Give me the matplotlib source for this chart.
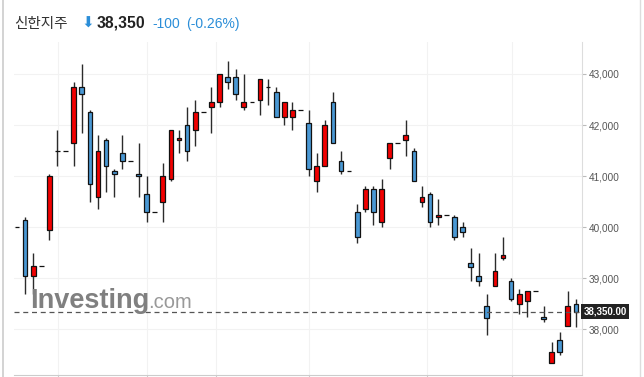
# region Load libraries
import matplotlib
matplotlib.use("Agg")
import matplotlib.pyplot as plt
from matplotlib.lines import Line2D
# endregion

# region Data
opens = [40000, 40150, 39050, 39250, 39950, 41500, 41500, 41650, 42750, 42250,
         40600, 41700, 41100, 41450, 41300, 41050, 40650, 40300, 40500, 40950,
         41700, 42000, 41900, 42250, 42350, 42450, 42950, 42950, 42350, 42450,
         42500, 42750, 42650, 42150, 42150, 42300, 42050, 40900, 41200, 42450,
         41300, 41100, 40300, 40350, 40750, 40100, 41350, 41650, 41700, 41500,
         40500, 40650, 40200, 40250, 40200, 40000, 39300, 39050, 38450, 38850,
         39400, 38950, 38500, 38550, 38750, 38250, 37350, 37800, 38060, 38500]
highs = [40000, 40200, 39500, 39250, 41050, 41900, 41500, 42850, 43200, 42300,
         41800, 41750, 41150, 41800, 41300, 41650, 41000, 40300, 41250, 41900,
         41900, 42350, 42500, 42250, 42750, 43000, 43250, 43100, 43000, 42450,
         42900, 42900, 42750, 42450, 42450, 42300, 42300, 41450, 42100, 42650,
         41500, 41100, 40450, 40800, 40800, 40950, 41650, 41650, 42100, 41550,
         40800, 40700, 40550, 40250, 40250, 40100, 39600, 39500, 38700, 39500,
         39800, 39000, 38800, 38750, 38750, 38450, 37750, 37950, 38750, 38600]
lows = [40000, 38700, 38700, 39250, 39750, 41200, 41500, 41200, 41850, 40500,
        40350, 40700, 40600, 41150, 41300, 40600, 40100, 40300, 40100, 40900,
        41450, 41300, 41600, 42250, 41850, 42350, 42700, 42500, 42300, 42450,
        42200, 42400, 42150, 42000, 41900, 42300, 41000, 40700, 41200, 41650,
        41050, 41100, 39700, 40300, 40050, 40000, 41150, 41650, 41400, 40900,
        40400, 40000, 40050, 40250, 39750, 39800, 38950, 38850, 37900, 38850,
        39350, 38550, 38300, 38250, 38750, 38150, 37350, 37500, 38060, 38050]
closes = [40000, 39050, 39250, 39250, 41000, 41500, 41500, 42750, 42600, 40850,
          41500, 41200, 41050, 41300, 41300, 41000, 40300, 40300, 41000, 41900,
          41750, 41500, 42250, 42250, 42450, 43000, 42850, 42600, 42450, 42450,
          42900, 42750, 42150, 42450, 42300, 42300, 41150, 41200, 42000, 41650,
          41100, 41100, 39800, 40750, 40300, 40750, 41650, 41650, 41800, 40900,
          40600, 40100, 40250, 40250, 39800, 39900, 39220, 38950, 38220, 39150,
          39450, 38600, 38700, 38750, 38750, 38200, 37550, 37550, 38450, 38350]

y_ticks = [38000, 39000, 40000, 41000, 42000, 43000]
month_ticks = [5.1, 16.1, 24.6, 36.1, 50.6, 61.1]
last_price = 38350
# endregion

# region Figure setup
W, H = 644, 377
fig = plt.figure(figsize=(W / 100, H / 100), dpi=100)
fig.patch.set_facecolor("white")
ax = fig.add_axes([14 / W, 1 - 375 / H, (582 - 14) / W, (375 - 42) / H])
ax.set_facecolor("white")
# endregion

# region Candles
x = list(range(len(opens)))
up_col, down_col = "#f20000", "#4a98d4"
colors = [up_col if c > o else (down_col if c < o else "#333333") for o, c in zip(opens, closes)]
ax.vlines(x, lows, highs, color="#2b2b2b", linewidth=1.0, zorder=2)
ax.bar(x, [c - o for o, c in zip(opens, closes)], bottom=opens, width=0.58,
       color=colors, edgecolor="#111111", linewidth=0.9, zorder=3)
# endregion

# region Axes styling
ax.set_xlim(-0.37, 69.75)
ax.set_ylim(37109, 43626)
ax.yaxis.tick_right()
ax.set_yticks(y_ticks)
ax.set_yticklabels([f"{v:,}" for v in y_ticks], family="Liberation Sans",
                   fontsize=7.2, color="#555555")
ax.tick_params(axis="y", length=3, color="#bbbbbb", pad=2)
ax.set_xticks(month_ticks)
ax.set_xticklabels([])
ax.tick_params(axis="x", length=3, color="#cccccc")
ax.grid(True, color="#f2f2f2", linewidth=0.8, zorder=0)
ax.set_axisbelow(True)
for s in ["left", "top"]:
    ax.spines[s].set_visible(False)
ax.spines["bottom"].set_color("#cccccc")
ax.spines["right"].set_color("#dddddd")

# last price line + label
ax.axhline(last_price, color="#555555", linewidth=0.9, linestyle=(0, (4, 3)), zorder=4)
ax.text(1.003, last_price, f"{last_price:,.2f}", transform=ax.get_yaxis_transform(),
        va="center", ha="left", fontsize=7, fontweight="bold", color="white",
        family="Liberation Sans", zorder=6, clip_on=False,
        bbox=dict(boxstyle="square,pad=0.25", facecolor="#222222", edgecolor="none"))

# watermark
ax.text(30 / W, 1 - 308 / H, "Investing", transform=fig.transFigure, fontsize=19.5,
        fontweight="bold", color="#808080", family="Liberation Sans", va="baseline", zorder=5)
ax.text(148 / W, 1 - 308 / H, ".com", transform=fig.transFigure, fontsize=14.5,
        color="#999999", family="Liberation Sans", va="baseline", zorder=5)
# endregion

# region Header
fig.text(14 / W, 1 - 28 / H, "신한지주", fontsize=10.5, color="#333333",
         family=["Noto Sans CJK KR", "DejaVu Sans"], va="baseline")
fig.text(81 / W, 1 - 28 / H, "⬇", fontsize=11, color="#2b8ed8",
         family="DejaVu Sans", va="baseline")
fig.text(97 / W, 1 - 28 / H, "38,350", fontsize=11.3, fontweight="bold", color="#222222",
         family="Liberation Sans", va="baseline")
fig.text(152 / W, 1 - 28 / H, "-100", fontsize=10, color="#2b8ed8",
         family="Liberation Sans", va="baseline")
fig.text(186 / W, 1 - 28 / H, "(-0.26%)", fontsize=10, color="#2b8ed8",
         family="Liberation Sans", va="baseline")

# outer border
fig.add_artist(Line2D([3 / W, 3 / W], [0, 1], color="#cccccc", linewidth=1.2))
fig.add_artist(Line2D([640 / W, 640 / W], [0, 1], color="#dddddd", linewidth=1.0))
# endregion

fig.savefig("out.png", dpi=100)
